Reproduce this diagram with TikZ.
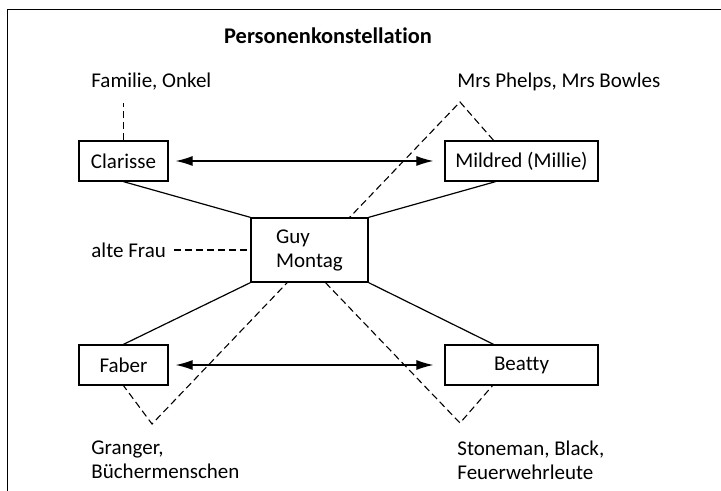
\documentclass[tikz,border=0pt]{standalone}
\usepackage{fontspec}
\setmainfont{Carlito}[Ligatures=NoCommon]
\usetikzlibrary{arrows.meta, calc, backgrounds}

\tikzset{
	person/.style={draw=black, fill=white, line width=0.65pt, minimum width=44.5pt, minimum height=20pt, inner sep=0pt, font=\fontsize{10.5}{12}\selectfont},
	wideperson/.style={person, minimum width=76.5pt},
	group/.style={anchor=west, inner sep=0pt, align=left, font=\fontsize{10.5}{12}\selectfont},
	tie/.style={draw=black, line width=0.6pt},
	loose/.style={draw=black, line width=0.55pt, dash pattern=on 3.5pt off 2pt},
	mutual/.style={tie, {Latex[length=8.5pt, width=5pt]}-{Latex[length=8.5pt, width=5pt]}}
}

\begin{document}
\begin{tikzpicture}[x=0.5pt, y=-0.5pt]
		
		\useasboundingbox (0,0) rectangle (721,491);
		
		% Frame
		\draw[line width=0.8pt] (7.5,491) -- (7.5,9.5) -- (721,9.5);
		
		% Title
		\node[font=\fontsize{11.2}{12}\selectfont\bfseries] (title) at (328,36) {Personenkonstellation};
		
		% Persons
		\node[person] (clarisse) at (123.5,161) {Clarisse};
		\node[wideperson] (mildred) at (521.5,161) {Mildred (Millie)};
		\node[person, minimum width=58.5pt, minimum height=32pt, align=left] (guy) at (309.5,250) {Guy\\Montag};
		\node[person] (faber) at (123.5,365) {Faber};
		\node[wideperson] (beatty) at (521.5,365) {Beatty};
		
		% Groups
		\node[group] (familie) at (91,82) {Familie, Onkel};
		\node[group] (phelps) at (457,82) {Mrs Phelps, Mrs Bowles};
		\node[group] (frau) at (91,250) {alte Frau};
		\node[group] (granger) at (91,460) {Granger,\\Büchermenschen};
		\node[group] (stoneman) at (457,460) {Stoneman, Black,\\Feuerwehrleute};
		
		% Tips
		\coordinate (familieFoot) at (123.5,103);
		\coordinate (phelpsTip) at (460,102);
		\coordinate (grangerTip) at (152,424);
		\coordinate (stonemanTip) at (460,423);
		
		% Relations
		\draw[tie] (clarisse.south) -- (guy.north west);
		\draw[tie] ($(mildred.south)+(-26,0)$) -- (guy.north east);
		\draw[tie] (guy.south west) -- (faber.north);
		\draw[tie] (guy.south east) -- ($(beatty.north)+(-28,0)$);
		
		\draw[mutual, shorten <=3.5pt, shorten >=5.5pt] (clarisse) -- (mildred);
		\draw[mutual, shorten <=3.5pt, shorten >=5.5pt] (faber) -- (beatty);
		
		% Surroundings
		\draw[loose] (clarisse.north) -- (familieFoot);
		\draw[loose, shorten <=4pt] (frau.east) -- (guy.west |- frau.east);
		\begin{pgfonlayer}{background}
			\draw[loose] ($(mildred.north)+(-28,0)$) -- (phelpsTip) -- (grangerTip) -- (faber.south);
			\draw[loose] ($(guy.south)+(16,0)$) -- (stonemanTip) -- ($(beatty.south)+(-29,0)$);
		\end{pgfonlayer}
		
	\end{tikzpicture}
\end{document}
